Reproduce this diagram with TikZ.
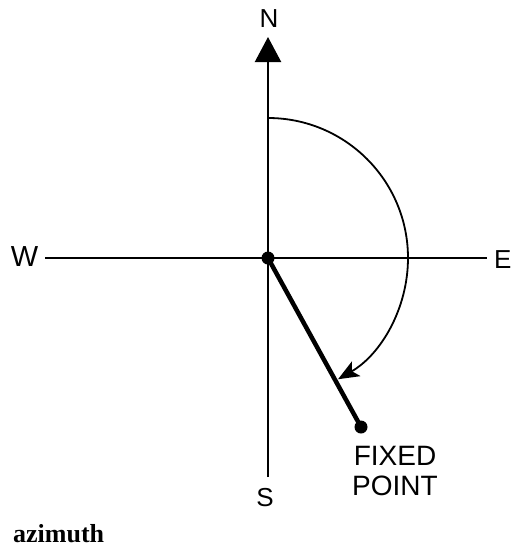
\documentclass[tikz,border=0pt]{standalone}
\usepackage{fontspec}
\setmainfont{Liberation Serif}
\newfontfamily\labfont{Liberation Sans}
\usetikzlibrary{arrows.meta}
\begin{document}
\begin{tikzpicture}[x=1pt,y=-1pt,
  axisline/.style={line width=2.2pt},
  arcline/.style={line width=1.8pt},
  dotmark/.style={circle,fill=black,inner sep=0pt,minimum size=13pt},
  compass/.style={font=\labfont\fontsize{26}{28}\selectfont,inner sep=0pt},
  plabel/.style={font=\labfont\fontsize{28}{30}\selectfont,inner sep=0pt,align=center}]
\useasboundingbox (0,0) rectangle (511,547);
\coordinate (O) at (268,258);
\coordinate (Ntip) at (268,37);
\coordinate (Send) at (268,477);
\coordinate (Wend) at (45,258);
\coordinate (Eend) at (487,258);
\coordinate (Atop) at (268,118);
% axes
\draw[axisline,-{Triangle[width=26pt,length=25pt]}] (Send) -- (Ntip);
\draw[axisline] (Wend) -- (Eend);
% fixed point line
\node[dotmark] (P) at (361,427) {};
\draw[line width=4.5pt] (O) -- (P.center);
\node[dotmark] (Od) at (O) {};
% azimuth arc
\draw[arcline,-{Stealth[width=17pt,length=21pt,inset=5pt]}] (Atop) arc[start angle=-90,end angle=60,radius=140];
% labels
\node[compass] (N) at (269,18.5) {N};
\node[compass,font=\labfont\fontsize{29}{30}\selectfont] (W) at (24.5,257) {W};
\node[compass,anchor=west] (E) at (494,260) {E};
\node[compass] (S) at (265,498) {S};
\node[plabel] (FP) at (395,471) {FIXED\\POINT};
\node[anchor=base west,inner sep=0pt,font=\bfseries\fontsize{26}{30}\selectfont] (cap) at (13,542) {azimuth};
\end{tikzpicture}
\end{document}
